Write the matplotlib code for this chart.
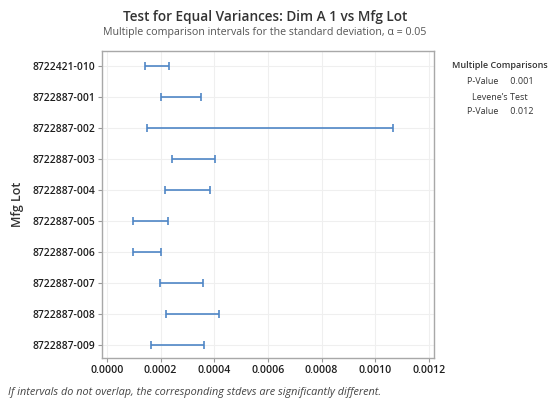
import numpy as np
import matplotlib.pyplot as plt

# Datos
lots = ['8722421-010', '8722887-001', '8722887-002', '8722887-003', '8722887-004',
        '8722887-005', '8722887-006', '8722887-007', '8722887-008', '8722887-009']
lower = [0.000143, 0.000202, 0.000150, 0.000241, 0.000216,
         0.000098, 0.000098, 0.000196, 0.000221, 0.000163]
upper = [0.000231, 0.000349, 0.001067, 0.000402, 0.000385,
         0.000226, 0.000200, 0.000358, 0.000416, 0.000363]
xticks = [0.0, 0.0002, 0.0004, 0.0006, 0.0008, 0.0010, 0.0012]

plt.rcParams['font.family'] = ['Open Sans', 'DejaVu Sans']

fig = plt.figure(figsize=(5.5, 4.05), dpi=100)
ax = fig.add_axes([102/550, 1 - 358/405, (434 - 102)/550, (358 - 51)/405])

lo = np.array(lower)
hi = np.array(upper)
y = np.arange(len(lots))
color = '#4f86c6'
ax.errorbar((lo + hi) / 2, y, xerr=(hi - lo) / 2, fmt='none', ecolor=color,
            elinewidth=1.2, capsize=3, capthick=1.2, zorder=3)

ax.set_yticks(y)
ax.set_yticklabels(lots, fontsize=7.4, fontweight='semibold', color='#1e1e1e')
ax.set_ylim(len(lots) - 0.58, -0.47)
ax.set_xticks(xticks)
ax.set_xticklabels([f'{v:.4f}' for v in xticks], fontsize=7.6, fontweight='semibold',
                   color='#1e1e1e')
ax.set_xlim(-0.0000186, 0.0012186)

ax.grid(True, color='#efefef', linewidth=0.8, zorder=0)
ax.tick_params(axis='both', length=3, color='#999999', width=0.8, pad=2)
for s in ax.spines.values():
    s.set_color('#a8a8a8')
    s.set_linewidth(1.0)

ax.set_ylabel('Mfg Lot', fontsize=9, fontweight='semibold', color='#333333', labelpad=6)

fig.text(0.482, 1 - 17/405, 'Test for Equal Variances: Dim A 1 vs Mfg Lot',
         ha='center', va='center', fontsize=9.8, fontweight='semibold', color='#333333')
fig.text(0.482, 1 - 33/405,
         'Multiple comparison intervals for the standard deviation, \u03b1 = 0.05',
         ha='center', va='center', fontsize=7.7, color='#555555')

# Cuadro de resultados
tx = 500/550
fig.text(tx, 1 - 65/405, 'Multiple Comparisons', ha='center', va='center',
         fontsize=6.5, fontweight='semibold', color='#333333')
fig.text(tx, 1 - 82/405, 'P-Value     0.001', ha='center', va='center',
         fontsize=6.5, color='#333333')
fig.text(tx, 1 - 97/405, 'Levene\u2019s Test', ha='center', va='center',
         fontsize=6.5, color='#333333')
fig.text(tx, 1 - 112/405, 'P-Value     0.012', ha='center', va='center',
         fontsize=6.5, color='#333333')

fig.text(8/550, 1 - 393/405,
         'If intervals do not overlap, the corresponding stdevs are significantly different.',
         ha='left', va='center', fontsize=7.85, style='italic', color='#444444')

fig.savefig('out.png', dpi=100)
